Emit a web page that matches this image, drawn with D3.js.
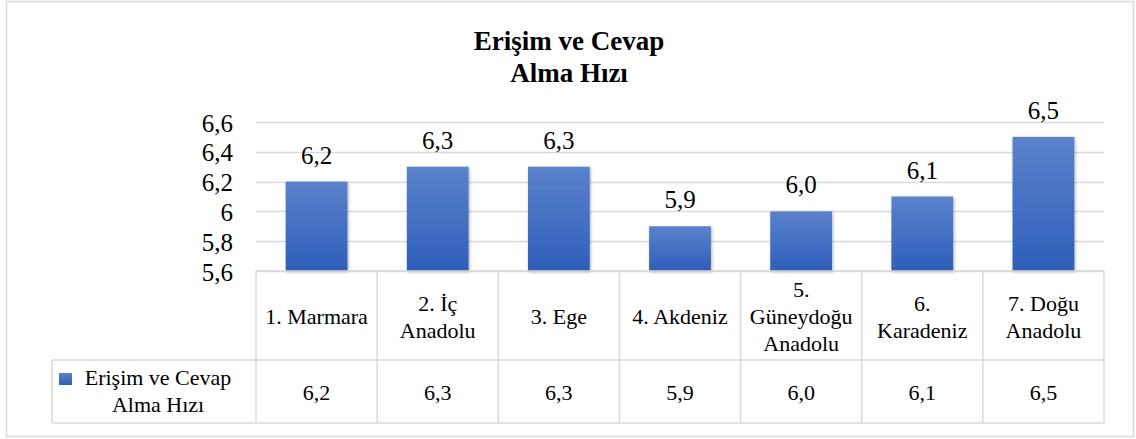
<!DOCTYPE html>
<html>
<head>
<meta charset="utf-8">
<script src="https://cdn.jsdelivr.net/npm/d3@7"></script>
<style>
  body { margin: 0; background: #fff; }
</style>
</head>
<body>
<script>
// chart data
var categories = ["1. Marmara", "2. İç Anadolu", "3. Ege", "4. Akdeniz", "5. Güneydoğu Anadolu", "6. Karadeniz", "7. Doğu Anadolu"];
var categoryLines = [["1. Marmara"], ["2. İç", "Anadolu"], ["3. Ege"], ["4. Akdeniz"], ["5.", "Güneydoğu", "Anadolu"], ["6.", "Karadeniz"], ["7. Doğu", "Anadolu"]];
var values = [6.2, 6.3, 6.3, 5.9, 6.0, 6.1, 6.5];
var tickValues = [5.6, 5.8, 6.0, 6.2, 6.4, 6.6];
var seriesName = ["Erişim ve Cevap", "Alma Hızı"];
var titleLines = ["Erişim ve Cevap", "Alma Hızı"];

var w = 1136, h = 439;
var grey = "#d9d9d9";
var serif = "'Liberation Serif'";

var svg = d3.select("body").append("svg")
    .attr("width", w)
    .attr("height", h)
    .style("font-family", serif);

// gradient for bars
var defs = svg.append("defs");
var grad = defs.append("linearGradient")
    .attr("id", "barGrad")
    .attr("x1", 0).attr("y1", 0).attr("x2", 0).attr("y2", 1);
grad.append("stop").attr("offset", "0%").attr("stop-color", "#5b82cc");
grad.append("stop").attr("offset", "100%").attr("stop-color", "#2d5fba");
var shadow = defs.append("filter").attr("id", "shadow")
    .attr("x", "-20%").attr("y", "-10%").attr("width", "140%").attr("height", "130%");
shadow.append("feDropShadow")
    .attr("dx", 1).attr("dy", 1).attr("stdDeviation", 1.5)
    .attr("flood-color", "#000").attr("flood-opacity", 0.3);

function place(x, y) { return "translate(" + x + "," + y + ")"; }

// outer frame
svg.append("rect")
    .attr("x", 6.5).attr("y", 1.5)
    .attr("width", 1127).attr("height", 435)
    .attr("fill", "#fff")
    .attr("stroke", grey).attr("stroke-width", 1.5);

// title
svg.append("text")
    .attr("text-anchor", "middle")
    .style("font-family", serif)
    .attr("font-size", 27)
    .attr("font-weight", "bold")
    .attr("transform", place(569, 50))
    .selectAll("tspan")
    .data(titleLines)
    .enter()
    .append("tspan")
    .attr("x", 0)
    .attr("y", function(d, i) { return i * 32; })
    .text(function(d) { return d; });

// scales
var plotLeft = 256, plotRight = 1104, plotTop = 122, plotBottom = 271;

var x = d3.scaleBand()
    .domain(categories)
    .range([plotLeft, plotRight])
    .paddingInner(0)
    .paddingOuter(0);

var y = d3.scaleLinear()
    .domain([5.6, 6.6])
    .range([plotBottom, plotTop]);

var fmtTick = function(d) { return d3.format("~g")(d).replace(".", ","); };
var fmtVal = function(d) { return d3.format(".1f")(d).replace(".", ","); };

// gridlines
svg.append("g")
    .selectAll("line")
    .data(tickValues)
    .enter()
    .append("line")
    .attr("x1", plotLeft).attr("x2", plotRight)
    .attr("y1", function(d) { return Math.round(y(d)) + 0.5; })
    .attr("y2", function(d) { return Math.round(y(d)) + 0.5; })
    .attr("stroke", grey).attr("stroke-width", 1.5);

// y axis labels
var yAxis = d3.axisLeft(y)
    .tickValues(tickValues)
    .tickFormat(fmtTick)
    .tickSize(0)
    .tickPadding(0);

var axisG = svg.append("g")
    .attr("transform", "translate(233,0)")
    .call(yAxis);
axisG.select(".domain").remove();
axisG.attr("font-family", null).style("font-family", serif);
axisG.selectAll("text")
    .attr("font-size", 25)
    .style("font-family", serif)
    .attr("fill", "#000")
    .attr("dy", "0.36em");

// bars
var barW = x.bandwidth() * 0.51;
svg.append("g")
    .selectAll("rect")
    .data(values)
    .enter()
    .append("rect")
    .attr("x", function(d, i) { return x(categories[i]) + (x.bandwidth() - barW) / 2; })
    .attr("y", function(d) { return y(d); })
    .attr("width", barW)
    .attr("height", function(d) { return plotBottom - y(d); })
    .attr("fill", "url(#barGrad)")
    .attr("filter", "url(#shadow)");

// data labels
svg.append("g")
    .selectAll("text")
    .data(values)
    .enter()
    .append("text")
    .attr("text-anchor", "middle")
    .style("font-family", serif)
    .attr("font-size", 25)
    .attr("x", function(d, i) { return x(categories[i]) + x.bandwidth() / 2; })
    .attr("y", function(d) { return y(d) - 18; })
    .text(fmtVal);

// data table
var tblTop = plotBottom, rowMid = 360, tblBottom = 423, legendLeft = 52;
var tbl = svg.append("g")
    .attr("stroke", grey).attr("stroke-width", 1.5);

// horizontal lines
tbl.append("line").attr("x1", plotLeft).attr("x2", plotRight).attr("y1", tblTop).attr("y2", tblTop);
tbl.append("line").attr("x1", legendLeft).attr("x2", plotRight).attr("y1", rowMid).attr("y2", rowMid);
tbl.append("line").attr("x1", legendLeft).attr("x2", plotRight).attr("y1", tblBottom).attr("y2", tblBottom);
// vertical lines
tbl.append("line").attr("x1", legendLeft).attr("x2", legendLeft).attr("y1", rowMid).attr("y2", tblBottom);
var colEdges = categories.map(function(c) { return x(c); }).concat([plotRight]);
tbl.selectAll(".col")
    .data(colEdges)
    .enter()
    .append("line")
    .attr("class", "col")
    .attr("x1", function(d) { return d; }).attr("x2", function(d) { return d; })
    .attr("y1", tblTop).attr("y2", tblBottom);

// category labels
var lineH = 27;
var catText = svg.append("g")
    .selectAll("text")
    .data(categoryLines)
    .enter()
    .append("text")
    .attr("text-anchor", "middle")
    .style("font-family", serif)
    .attr("font-size", 22)
    .attr("transform", function(d, i) {
        return place(x(categories[i]) + x.bandwidth() / 2, (tblTop + rowMid) / 2 + 8.5);
    });
catText.selectAll("tspan")
    .data(function(d) {
        return d.map(function(line, j) { return { text: line, j: j, n: d.length }; });
    })
    .enter()
    .append("tspan")
    .attr("x", 0)
    .attr("y", function(d) { return (d.j - (d.n - 1) / 2) * lineH; })
    .text(function(d) { return d.text; });

// value row
svg.append("g")
    .selectAll("text")
    .data(values)
    .enter()
    .append("text")
    .attr("text-anchor", "middle")
    .style("font-family", serif)
    .attr("font-size", 22)
    .attr("x", function(d, i) { return x(categories[i]) + x.bandwidth() / 2; })
    .attr("y", (rowMid + tblBottom) / 2 + 8.5)
    .text(fmtVal);

// legend key in table
svg.append("rect")
    .attr("x", 59).attr("y", 373)
    .attr("width", 13).attr("height", 12)
    .attr("fill", "url(#barGrad)");
svg.append("text")
    .attr("text-anchor", "middle")
    .style("font-family", serif)
    .attr("font-size", 22)
    .attr("transform", place(158, 385))
    .selectAll("tspan")
    .data(seriesName)
    .enter()
    .append("tspan")
    .attr("x", 0)
    .attr("y", function(d, i) { return i * 27; })
    .text(function(d) { return d; });
</script>
</body>
</html>
